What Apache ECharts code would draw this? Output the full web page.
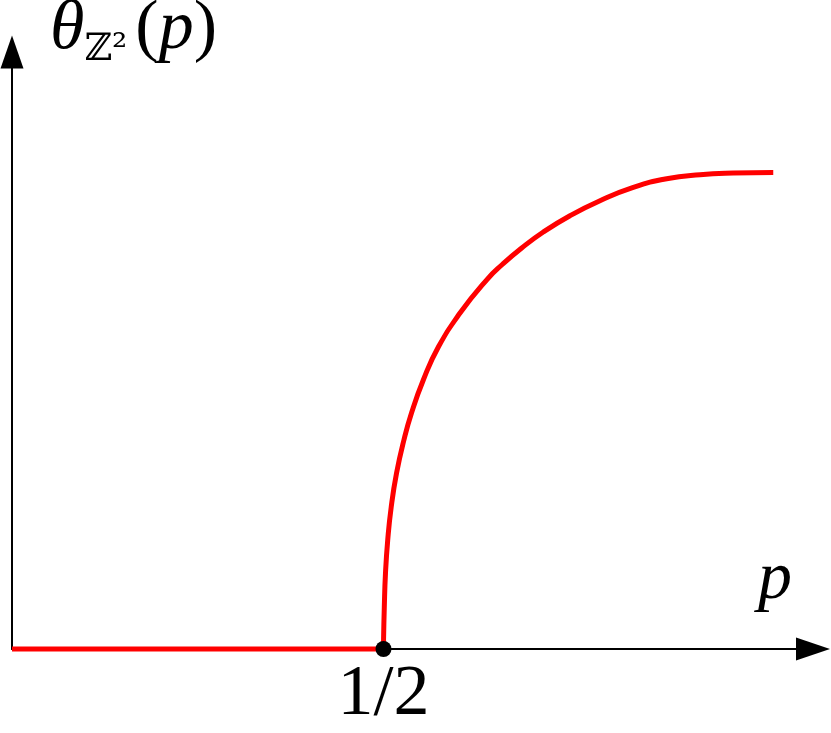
<!DOCTYPE html>
<html>
<head>
<meta charset="utf-8">
<script src="https://cdn.jsdelivr.net/npm/echarts@6/dist/echarts.min.js"></script>
<style>html,body{margin:0;padding:0;background:#fff}#c{width:831px;height:733px}</style>
</head>
<body>
<div id="c"></div>
<script>
// Data (p, theta)
var flatP = [0, 0.5];
var flatTheta = [0, 0];
var curveP = [0.5, 0.5001, 0.5011, 0.5027, 0.5057, 0.5104, 0.5176, 0.5275, 0.5377, 0.5536, 0.5740, 0.6030, 0.6393, 0.6595, 0.6860, 0.7151, 0.7510, 0.7914, 0.8362, 0.8812, 0.9260, 0.9708, 1.0246];
var curveTheta = [0, 0.0151, 0.0704, 0.1273, 0.1826, 0.2379, 0.2948, 0.3501, 0.3953, 0.4506, 0.5064, 0.5628, 0.6189, 0.6436, 0.6717, 0.6985, 0.7258, 0.7509, 0.7732, 0.7878, 0.7945, 0.7973, 0.7983];
var criticalPoint = [0.5, 0];
var tickLabels = {0.5: '1/2'};

function zip(a, b) { return a.map(function (v, i) { return [v, b[i]]; }); }

var chart = echarts.init(document.getElementById('c'), null, {renderer: 'canvas'});
chart.setOption({
  animation: false,
  backgroundColor: '#fff',
  grid: {left: 12, right: 18, top: 52, bottom: 84, containLabel: false, outerBoundsMode: 'none'},
  xAxis: {
    type: 'value', min: 0, max: 1.0781, interval: 0.5,
    name: 'p', nameLocation: 'end', nameGap: -38,
    nameTextStyle: {fontFamily: 'Liberation Serif', fontStyle: 'italic', fontSize: 68, color: '#000',
      align: 'center', verticalAlign: 'bottom', padding: [0, 0, 35, 0]},
    axisLine: {show: true, symbol: ['none', 'triangle'], symbolSize: [23, 34], lineStyle: {color: '#000', width: 2}},
    axisTick: {show: false},
    splitLine: {show: false},
    axisLabel: {
      show: true, margin: 10, color: '#000', fontFamily: 'Liberation Serif', fontSize: 72,
      formatter: function (v) { return tickLabels[v] || ''; }
    }
  },
  yAxis: {
    type: 'value', min: 0, max: 1,
    name: '{t|θ}{s|ℤ²}{r|(}{t|p}{r|)}', nameLocation: 'end', nameGap: 22,
    nameTextStyle: {
      align: 'left', verticalAlign: 'middle', padding: [0, 0, 0, 38], color: '#000',
      rich: {
        t: {fontFamily: 'Liberation Serif', fontStyle: 'italic', fontSize: 70, color: '#000'},
        r: {fontFamily: 'Liberation Serif', fontSize: 70, color: '#000'},
        s: {fontFamily: 'DejaVu Serif', fontSize: 38, color: '#000', padding: [40, 8, 0, 0]}
      }
    },
    axisLine: {show: true, symbol: ['none', 'triangle'], symbolSize: [23, 33], lineStyle: {color: '#000', width: 2}},
    axisTick: {show: false},
    splitLine: {show: false},
    axisLabel: {show: false}
  },
  series: [
    {type: 'line', data: zip(flatP, flatTheta), showSymbol: false, clip: false,
      lineStyle: {color: '#ff0000', width: 5}, z: 3},
    {type: 'line', data: zip(curveP, curveTheta), showSymbol: false, clip: false, smooth: 0.5,
      lineStyle: {color: '#ff0000', width: 5}, z: 3},
    {type: 'scatter', data: [criticalPoint], symbol: 'circle', symbolSize: 16, clip: false,
      itemStyle: {color: '#000', opacity: 1}, z: 5}
  ]
});
</script>
</body>
</html>
